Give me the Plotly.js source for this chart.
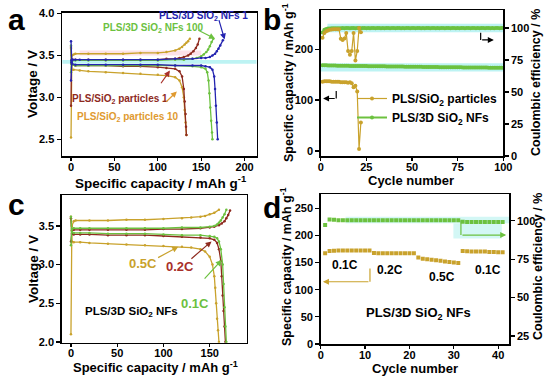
<!DOCTYPE html>
<html><head><meta charset="utf-8">
<script src="https://cdn.plot.ly/plotly-3.0.1.min.js"></script>
<style>html,body{margin:0;padding:0;background:#fff}#chart{width:550px;height:377px}</style>
</head><body><div id="chart"></div>
<script>
// ---------- Panel a: charge/discharge profiles ----------
const aNF1ChX = [0,0.5,1,2,5,10,20,40,60,80,100,120,140,150,155,160,163,166,168,170,172,175];
const aNF1ChY = [3.20,3.44,3.45,3.45,3.45,3.45,3.45,3.45,3.45,3.45,3.45,3.46,3.46,3.47,3.47,3.48,3.50,3.52,3.55,3.58,3.62,3.68];
const aNF1DcX = [0,0.5,1,5,20,40,60,80,100,120,140,150,155,160,163,165,166,167,168,169];
const aNF1DcY = [3.67,3.42,3.40,3.39,3.39,3.39,3.39,3.39,3.39,3.38,3.38,3.38,3.37,3.36,3.33,3.25,3.10,2.90,2.70,2.50];
const aNF100ChX = [0,0.5,2,5,20,40,60,80,100,120,130,140,145,150,153,156,158,160,162,164];
const aNF100ChY = [3.30,3.43,3.44,3.44,3.44,3.44,3.44,3.44,3.44,3.45,3.45,3.46,3.47,3.49,3.51,3.54,3.57,3.61,3.66,3.70];
const aNF100DcX = [0,0.5,2,5,20,40,60,80,100,120,140,150,155,157,158.5,159.5,160.5,161.5,162.5,163];
const aNF100DcY = [3.62,3.40,3.39,3.38,3.38,3.38,3.38,3.38,3.38,3.38,3.37,3.36,3.34,3.30,3.20,3.05,2.88,2.72,2.58,2.50];
const aP1ChX = [0,0.5,2,5,20,40,60,80,100,110,120,125,130,135,138,141,144,146,148];
const aP1ChY = [2.90,3.44,3.45,3.45,3.45,3.45,3.45,3.45,3.45,3.46,3.46,3.47,3.48,3.50,3.52,3.55,3.59,3.63,3.70];
const aP1DcX = [0,0.5,2,5,20,40,60,80,100,110,120,125,128,130,131,132,132.5,133];
const aP1DcY = [3.60,3.40,3.39,3.38,3.38,3.38,3.37,3.37,3.36,3.35,3.34,3.31,3.25,3.10,2.95,2.80,2.65,2.55];
const aP10ChX = [0,1,3,5,20,40,60,80,100,110,120,125,128,131,133,135,137];
const aP10ChY = [2.52,3.50,3.51,3.52,3.52,3.52,3.52,3.53,3.53,3.54,3.56,3.58,3.60,3.63,3.65,3.67,3.70];
const aP10DcX = [0,1,3,10,20,40,60,80,100,110,120,125,128,130,131,132,133];
const aP10DcY = [3.58,3.33,3.33,3.32,3.31,3.30,3.29,3.28,3.27,3.26,3.24,3.20,3.12,3.00,2.85,2.70,2.55];

// ---------- Panel b: cycling ----------
const bPartCap = [136,137,137,137,137,136,136,136,136,136,135,135,135,135,134,135,133,125,128,117,4,56];
const bPartCE  = [92.3,96,97.5,98,98.5,98.8,99,99,99,99,91.6,90.6,91.8,96,82,79,82,96,74.5,82,100,96.7];
const bNFCap = [168.5,168.3,168.2,168.0,167.9,167.8,167.8,167.7,167.6,167.5,
  167.5,167.4,167.3,167.3,167.2,167.1,167.1,167.0,167.0,166.9,
  166.9,166.8,166.8,166.7,166.7,166.6,166.6,166.5,166.5,166.4,
  166.4,166.3,166.3,166.2,166.2,166.1,166.1,166.0,166.0,165.9,
  165.9,165.8,165.8,165.7,165.7,165.6,165.6,165.5,165.5,165.4,
  165.4,165.3,165.3,165.2,165.2,165.1,165.1,165.0,165.0,164.9,
  164.9,164.9,164.8,164.8,164.7,164.7,164.7,164.6,164.6,164.5,
  164.5,164.5,164.4,164.4,164.3,164.3,164.3,164.2,164.2,164.1,
  164.1,164.1,164.0,164.0,164.0,163.9,163.9,163.9,163.8,163.8,
  163.8,163.7,163.7,163.7,163.6,163.6,163.6,163.5,163.5,163.5];
const bNFCE = [96.5,98.6,99.2,99.5,99.6,99.7,99.7,99.8,99.8,99.8,
  99.8,99.9,99.8,99.9,99.9,99.8,99.9,99.9,99.8,99.9,
  99.9,99.8,99.9,99.9,99.8,99.9,99.8,99.9,99.9,99.8,
  99.9,99.9,99.8,99.9,99.8,99.9,99.9,99.8,99.9,99.9,
  99.8,99.9,99.9,99.8,99.9,99.8,99.9,99.9,99.8,99.9,
  99.9,99.8,99.9,99.9,99.8,99.9,99.8,99.9,99.9,99.8,
  99.9,99.9,99.8,99.9,99.8,99.9,99.9,99.8,99.9,99.9,
  99.8,99.9,99.9,99.8,99.9,99.8,99.9,99.9,99.8,99.9,
  99.9,99.8,99.9,99.9,99.8,99.9,99.8,99.9,99.9,99.8,
  99.9,99.9,99.8,99.9,99.8,99.9,99.9,99.8,99.9,99.9];

// ---------- Panel c: rate profiles ----------
const c05ChX = [0,1,3,5,20,40,60,80,100,120,130,140,145,150,155,160];
const c05ChY = [2.10,3.50,3.56,3.57,3.57,3.57,3.58,3.58,3.59,3.60,3.61,3.62,3.63,3.65,3.67,3.71];
const c05DcX = [0,1,3,10,20,40,60,80,100,120,130,140,145,150,153,155,156,157,158,159,160];
const c05DcY = [3.62,3.30,3.29,3.29,3.28,3.27,3.26,3.25,3.24,3.23,3.22,3.20,3.17,3.10,3.00,2.85,2.70,2.50,2.30,2.15,2.00];
const c02ChX = [0,1,3,10,20,40,60,80,100,120,140,150,155,160,163,166,168,170,172];
const c02ChY = [3.30,3.44,3.45,3.45,3.45,3.45,3.45,3.45,3.46,3.46,3.47,3.48,3.49,3.51,3.53,3.56,3.60,3.64,3.70];
const c02DcX = [0,1,3,10,20,40,60,80,100,120,140,150,155,158,160,162,163,164,165,166,167];
const c02DcY = [3.60,3.40,3.39,3.39,3.39,3.38,3.38,3.38,3.37,3.36,3.35,3.34,3.32,3.28,3.20,3.05,2.85,2.60,2.40,2.20,2.00];
const c01ChX = [0,1,3,10,20,40,60,80,100,120,140,150,155,158,160,162,164,166,168];
const c01ChY = [3.25,3.46,3.47,3.47,3.47,3.47,3.47,3.47,3.47,3.48,3.48,3.49,3.50,3.52,3.54,3.57,3.61,3.65,3.71];
const c01DcX = [0,1,3,10,20,40,60,80,100,120,140,150,155,158,160,162,164,165,166,167,168];
const c01DcY = [3.62,3.42,3.41,3.41,3.41,3.40,3.40,3.40,3.39,3.38,3.38,3.37,3.36,3.34,3.30,3.20,3.00,2.75,2.45,2.20,2.00];

// ---------- Panel d: rate cycling ----------
const dCap = [167,171,171.5,172,172,172,172,172,172,172,172,
  167.5,167,167,167,167,167,167,167,167,167,
  159,157,156,155,154,153,152,151,150,149,
  171,170.5,170,170,170,170,169.5,169.5,169,169];
const dCE = [97.2,100.8,100.6,100.4,100.4,100.4,100.4,100.4,100.4,100.4,100.4,
  100.4,100.3,100.3,100.3,100.3,100.3,100.3,100.3,100.3,100.3,
  100.3,100.3,100.3,100.3,100.3,100.3,100.3,100.3,100.3,100.3,
  99.3,99.2,99.2,99.2,99.2,99.2,99.2,99.2,99.2,99.2];

// ---------- Text ----------
const capT = 'Specific capacity / mAh g<sup>-1</sup>';
const voltT = 'Voltage / V';
const cycT = 'Cycle number';
const ceT = 'Coulombic efficiency / %';

const F = 'Liberation Sans, Arial, sans-serif';
const BLUE='#2424b0', GREEN='#6cc13f', DRED='#8e2a1e', GOLD='#c9a22c', ORANGE='#e09a30', RED2='#a8302a';
const cyc = n => Array.from({length:n},(_,i)=>i+1);

function prof(x,y,color,xa,ya){
  return {x:x,y:y,type:'scatter',mode:'lines+markers',xaxis:xa,yaxis:ya,showlegend:false,
    line:{color:color,width:1.3},marker:{color:color,size:2.5}};
}
const traces = [
  prof(aP10ChX,aP10ChY,GOLD,'x','y'), prof(aP10DcX,aP10DcY,GOLD,'x','y'),
  prof(aP1ChX,aP1ChY,DRED,'x','y'), prof(aP1DcX,aP1DcY,DRED,'x','y'),
  prof(aNF100ChX,aNF100ChY,GREEN,'x','y'), prof(aNF100DcX,aNF100DcY,GREEN,'x','y'),
  prof(aNF1ChX,aNF1ChY,BLUE,'x','y'), prof(aNF1DcX,aNF1DcY,BLUE,'x','y'),
  prof(c05ChX,c05ChY,GOLD,'x3','y4'), prof(c05DcX,c05DcY,GOLD,'x3','y4'),
  prof(c02ChX,c02ChY,DRED,'x3','y4'), prof(c02DcX,c02DcY,DRED,'x3','y4'),
  prof(c01ChX,c01ChY,GREEN,'x3','y4'), prof(c01DcX,c01DcY,GREEN,'x3','y4'),
  {x:cyc(bNFCap.length),y:bNFCap,xaxis:'x2',yaxis:'y2',type:'scatter',mode:'lines+markers',
    name:'PLS/3D SiO<sub>2</sub> NFs',legendrank:2,showlegend:true,line:{color:GREEN,width:2},marker:{color:GREEN,size:4}},
  {x:cyc(bNFCE.length),y:bNFCE,xaxis:'x2',yaxis:'y3',type:'scatter',mode:'lines+markers',showlegend:false,
    line:{color:GREEN,width:2},marker:{color:GREEN,size:4}},
  {x:cyc(bPartCap.length),y:bPartCap,xaxis:'x2',yaxis:'y2',type:'scatter',mode:'lines+markers',
    name:'PLS/SiO<sub>2</sub> particles',legendrank:1,showlegend:true,line:{color:GOLD,width:1.2},marker:{color:GOLD,size:4}},
  {x:cyc(bPartCE.length),y:bPartCE,xaxis:'x2',yaxis:'y3',type:'scatter',mode:'lines+markers',showlegend:false,
    line:{color:GOLD,width:1.2},marker:{color:GOLD,size:4}},
  {x:cyc(dCap.length),y:dCap,xaxis:'x4',yaxis:'y5',type:'scatter',mode:'markers',showlegend:false,
    marker:{color:GOLD,size:4,symbol:'square'}},
  {x:cyc(dCE.length),y:dCE,xaxis:'x4',yaxis:'y6',type:'scatter',mode:'markers',showlegend:false,
    marker:{color:GREEN,size:4,symbol:'square'}}
];

const TF = {family:F,size:11,color:'#000',weight:'bold'};
function xax(dom,range,anchor,dtick){
  return {domain:dom,range:range,anchor:anchor,dtick:dtick,showgrid:false,zeroline:false,showline:true,
    linecolor:'#000',linewidth:1.5,mirror:true,ticks:'outside',ticklen:3,tickwidth:1.2,tickcolor:'#000',
    ticklabelstandoff:-3,tickfont:TF,automargin:false};
}
function yax(dom,range,anchor,dtick,extra){
  return Object.assign({domain:dom,range:range,anchor:anchor,dtick:dtick,showgrid:false,zeroline:false,showline:true,
    linecolor:'#000',linewidth:1.5,mirror:true,ticks:'outside',ticklen:4,tickwidth:1.2,tickcolor:'#000',
    tickfont:TF,automargin:false},extra||{});
}
const W=550,H=377;
const dx=(a,b)=>[a/W,b/W], dy=(top,bot)=>[1-bot/H,1-top/H];

function lab(text,x,y,xref,yref,size,color,angle){
  return {text:text,x:x,y:y,xref:xref,yref:yref,xanchor:'center',yanchor:'middle',showarrow:false,
    textangle:angle||0,font:{family:F,size:size,color:color,weight:'bold'}};
}
function arr(x,y,ax,ay,xref,yref,color){
  return {text:'',x:x,y:y,ax:ax,ay:ay,xref:xref,yref:yref,axref:xref,ayref:yref,showarrow:true,
    arrowhead:2,arrowsize:1,arrowwidth:1.2,arrowcolor:color};
}
const P = (px,py)=>[px/W,1-py/H];
function ptitle(text,px,py,size,angle){
  const p=P(px,py); return lab(text,p[0],p[1],'paper','paper',size,'#000',angle);
}
const annotations = [
  ptitle('a',16,20,30), ptitle('b',272,19,30), ptitle('c',16,205,30), ptitle('d',272,207,30),
  // axis titles
  ptitle(capT,160,182,13.5), ptitle(voltT,32,84,13.5,-90),
  ptitle(cycT,411,180,13), ptitle(capT,288,83,12.5,-90), ptitle(ceT,536,83,12.5,-90),
  ptitle(capT,155,367,13), ptitle(voltT,33,269,13.5,-90),
  ptitle(cycT,415,368,13), ptitle(capT,286,267,12.5,-90), ptitle(ceT,538,267,12.5,-90),
  // panel a labels
  lab('PLS/3D SiO<sub>2</sub> NFs 1',153,3.965,'x','y',10,BLUE),
  lab('PLS/3D SiO<sub>2</sub> NFs 100',94,3.83,'x','y',10,GREEN),
  lab('PLS/SiO<sub>2</sub> particles 1',57,2.98,'x','y',10,DRED),
  lab('PLS/SiO<sub>2</sub> particles 10',66,2.76,'x','y',10,ORANGE),
  arr(177,3.69,170,3.94,'x','y',BLUE),
  arr(166,3.70,145,3.81,'x','y',GREEN),
  arr(114,3.32,102.5,3.15,'x','y',RED2),
  arr(122,3.07,108,2.93,'x','y',ORANGE),
  arr(1.3,103,8.5,103,'x2','y2','#000'),
  arr(94.8,90.6,87.6,90.6,'x2','y3','#000'),
  lab('0.5C',78,3.02,'x3','y4',13,GOLD),
  lab('0.2C',118,2.97,'x3','y4',13,RED2),
  lab('0.1C',134,2.50,'x3','y4',13,GREEN),
  arr(116,3.23,92.6,3.08,'x3','y4',GOLD),
  arr(152,3.30,128.6,3.06,'x3','y4',DRED),
  arr(163,3.06,143,2.80,'x3','y4',GREEN),
  lab('PLS/3D SiO<sub>2</sub> NFs',65.6,2.39,'x3','y4',11.5,'#000'),
  lab('0.1C',5.5,145,'x4','y5',12,'#000'),
  lab('0.2C',15.7,136,'x4','y5',12,'#000'),
  lab('0.5C',27.4,123.7,'x4','y5',12,'#000'),
  lab('0.1C',37.7,136,'x4','y5',12,'#000'),
  lab('PLS/3D SiO<sub>2</sub> NFs',22,56,'x4','y5',13,'#000'),
  arr(0.5,114.5,11.1,114.5,'x4','y5',GOLD),
  arr(41.8,90.7,31.6,90.7,'x4','y6',GREEN)
];
const CYAN='#bdf3f3';
const shapes = [
  {type:'rect',xref:'x',yref:'y',x0:-10,x1:214,y0:3.40,y1:3.445,fillcolor:CYAN,line:{width:0},layer:'below'},
  {type:'rect',xref:'x',yref:'y',x0:10,x1:150,y0:3.50,y1:3.56,fillcolor:'#fde1e8',line:{width:0},layer:'below'},
  {type:'rect',xref:'x2',yref:'y3',x0:3.7,x1:100,y0:96.7,y1:103.3,fillcolor:CYAN,line:{width:0},layer:'below'},
  {type:'rect',xref:'x2',yref:'y2',x0:0,x1:100,y0:156,y1:172.5,fillcolor:CYAN,line:{width:0},layer:'below'},
  {type:'rect',xref:'x4',yref:'y6',x0:5.6,x1:42.5,y0:98.3,y1:102.6,fillcolor:'#d3f7f5',line:{width:0},layer:'below'},
  {type:'rect',xref:'x4',yref:'y6',x0:29.9,x1:40.8,y0:88.5,y1:98.3,fillcolor:'#d3f7f5',line:{width:0},layer:'below'},
  {type:'line',xref:'x2',yref:'y2',x0:8.5,x1:8.5,y0:118,y1:103,line:{color:'#000',width:1.2}},
  {type:'line',xref:'x2',yref:'y3',x0:87.6,x1:87.6,y0:96.2,y1:90.6,line:{color:'#000',width:1.2}},
  {type:'line',xref:'x4',yref:'y5',x0:11.1,x1:11.1,y0:139,y1:114.5,line:{color:GOLD,width:1.2}},
  {type:'line',xref:'x4',yref:'y6',x0:31.6,x1:31.6,y0:100.4,y1:90.7,line:{color:GREEN,width:1.2}}
];

const layout = {
  width:W,height:H,margin:{l:0,r:0,t:0,b:0},paper_bgcolor:'#fff',plot_bgcolor:'#fff',
  font:{family:F,color:'#000'},
  xaxis: xax(dx(62,256.7),[-10.4,214],'y',50),
  yaxis: yax(dy(12.7,156),[2.3,4.01],'x',0.5,{tickformat:'.1f'}),
  xaxis2: xax(dx(320.7,503.3),[0,100],'y2',25),
  yaxis2: yax(dy(10,156),[-10,277],'x2',100),
  yaxis3: yax(dy(10,156),[0,114],'x2',25,{overlaying:'y2',side:'right',mirror:false}),
  xaxis3: xax(dx(61.7,246.7),[-10,190],'y4',50),
  yaxis4: yax(dy(195,342.7),[1.99,3.9],'x3',0.5,{tickformat:'.1f'}),
  xaxis4: xax(dx(320.7,509.3),[0,42.5],'y5',10),
  yaxis5: yax(dy(194,344),[0,276],'x4',50),
  yaxis6: yax(dy(194,344),[19.8,117.4],'x4',25,{overlaying:'y5',side:'right',mirror:false}),
  legend:{x:352/W,y:1-84/H,xanchor:'left',yanchor:'top',bgcolor:'rgba(0,0,0,0)',
    font:{family:F,size:12,weight:'bold',color:'#000'},itemwidth:30,tracegroupgap:0,traceorder:'normal'},
  showlegend:true,
  annotations:annotations, shapes:shapes
};
Plotly.newPlot('chart',traces,layout,{staticPlot:true,displayModeBar:false});
</script></body></html>
